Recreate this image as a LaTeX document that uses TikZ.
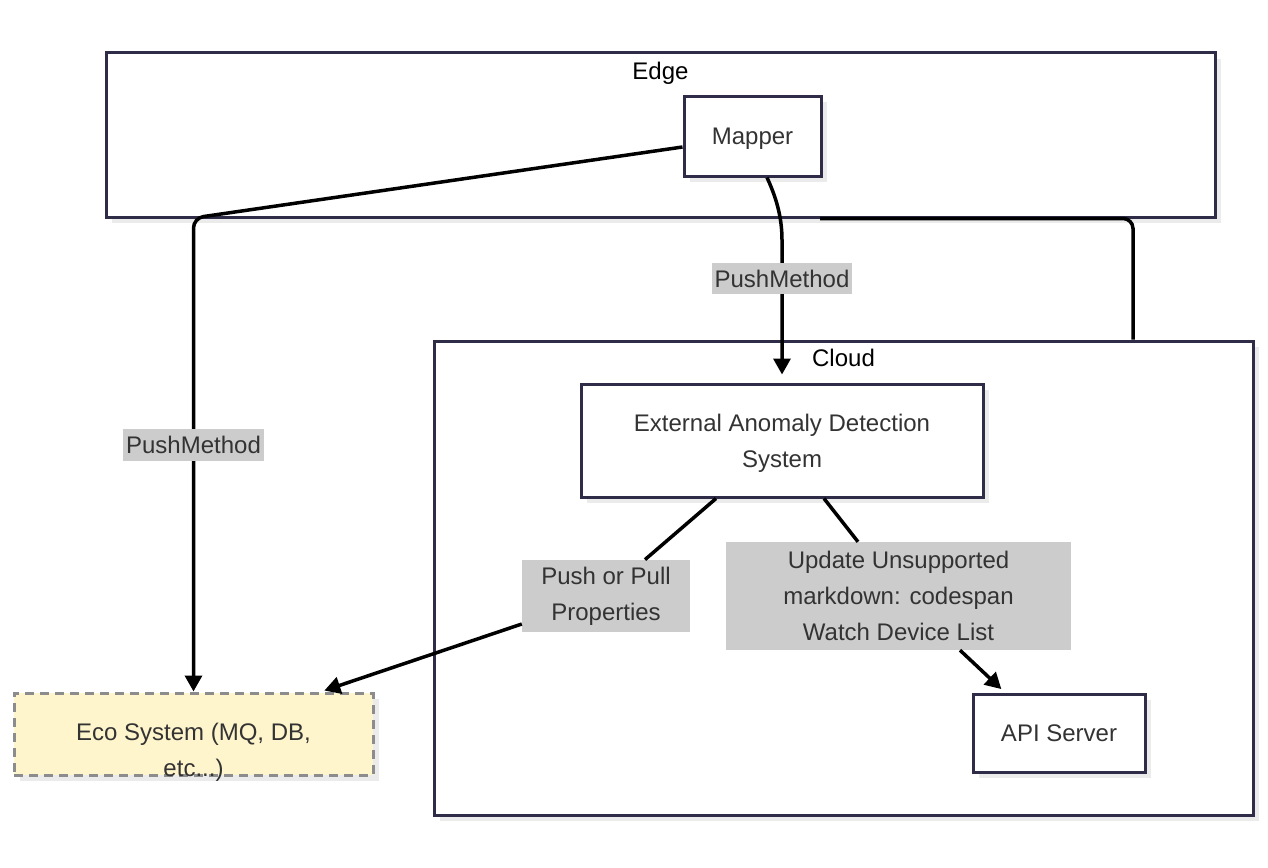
\documentclass[tikz,border=0pt]{standalone}
\usepackage{fontspec}
\setmainfont{Liberation Sans}
\usepackage{xcolor}
\usetikzlibrary{arrows.meta, positioning, shadows}

\definecolor{nodeline}{HTML}{2E2C47}
\definecolor{nodetext}{HTML}{333333}
\definecolor{ecofill}{HTML}{FFF5CC}

\begin{document}
\begin{tikzpicture}[x=1pt, y=-1pt,
    font=\fontsize{24}{36}\selectfont,
    boxshadow/.style={drop shadow={shadow xshift=6pt, shadow yshift=-6pt,
                      fill=black!8, opacity=1}},
    group/.style={rectangle, draw=nodeline, line width=3pt, fill=white, boxshadow},
    title/.style={anchor=north, inner sep=0pt, text=black},
    block/.style={rectangle, draw=nodeline, line width=3pt, fill=white,
                  text=nodetext, align=center, text depth=0pt, boxshadow},
    ecobox/.style={rectangle, draw=black!45, dash pattern=on 9pt off 6pt,
                   line width=3pt, fill=ecofill, boxshadow},
    lbl/.style={rectangle, sharp corners, fill=gray!40, text=nodetext, align=center,
                inner xsep=3pt, inner ysep=7pt},
    arrow/.style={-{Triangle[length=16pt, width=17pt]}, line width=3.5pt, draw=black},
    link/.style={line width=3.5pt, draw=black},
]
\useasboundingbox (0,0) rectangle (1268,867);

% Groups
\node[group, minimum width=1109pt, minimum height=164pt] (edgebox) at (660.5,135) {};
\node[title, yshift=-10pt] (edgetitle) at (edgebox.north) {Edge};
\node[group, minimum width=819pt, minimum height=474pt] (cloudbox) at (843.5,578) {};
\node[title, yshift=-9pt] (cloudtitle) at (cloudbox.north) {Cloud};

% Edge
\node[block, minimum width=137pt, minimum height=80pt] (mapper) at (752.5,136) {Mapper};

% Cloud
\node[block, minimum width=402pt, minimum height=113pt] (eads) at (782,440.5)
    {External Anomaly Detection\\System};
\node[block, minimum width=172pt, minimum height=78pt] (api) at (1059,733) {API Server};

% Eco system
\node[ecobox, minimum width=359pt, minimum height=82pt] (eco) at (193.5,734) {};
\node[text=nodetext, align=center, inner sep=0pt] (ecotext) at (193.5,752)
    {Eco System (MQ, DB,\\etc...)};

% Labels between nodes
\node[lbl, minimum width=168pt, minimum height=72pt] (ppl) at (606,596)
    {Push or Pull\\Properties};
\node[lbl, minimum width=345pt, minimum height=108pt] (upd) at (898.5,596)
    {Update Unsupported\\markdown: codespan\\Watch Device List};

% Arrows
\draw[arrow, rounded corners=10pt] ([yshift=-11pt]mapper.west) -- (193.5,218)
    -- node[lbl, pos=0.48] {PushMethod} (eco.north);
\draw[arrow, shorten >=8pt] ([xshift=14.5pt]mapper.south)
    .. controls (775,195) and (782,215) .. (782,240)
    -- node[lbl, pos=0.27] {PushMethod} (eads.north);
\draw[link, rounded corners=10pt] ([xshift=159.5pt]edgebox.south)
    -| ([xshift=289.5pt]cloudbox.north);
\draw[link] ([xshift=-66pt]eads.south) -- ([xshift=39pt]ppl.north);
\draw[arrow, shorten >=3pt] ([yshift=-28pt]ppl.west) -- ([xshift=-53pt]eco.north east);
\draw[link] ([xshift=42pt]eads.south) -- ([xshift=-40.5pt]upd.north);
\draw[arrow, shorten >=5pt] ([xshift=61.5pt]upd.south) -- ([xshift=-54pt]api.north);
\end{tikzpicture}
\end{document}
